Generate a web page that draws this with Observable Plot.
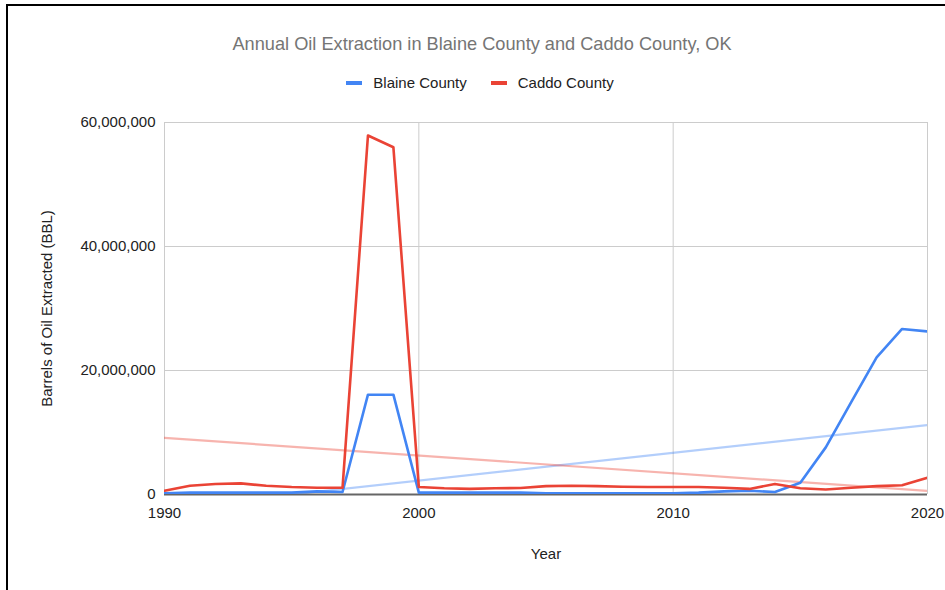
<!DOCTYPE html>
<html>
<head>
<meta charset="utf-8">
<script src="https://cdn.jsdelivr.net/npm/d3@7"></script>
<script src="https://cdn.jsdelivr.net/npm/@observablehq/plot@0.6"></script>
<style>
  html, body { margin: 0; padding: 0; background: #fff; }
  #chart {
    position: relative;
    width: 945px;
    height: 590px;
    overflow: hidden;
    font-family: "Liberation Sans", Arial, sans-serif;
  }
  #frame {
    position: absolute;
    left: 6px;
    top: 4px;
    right: -4px;
    bottom: -4px;
    border-left: 2px solid #000;
    border-top: 2px solid #000;
    pointer-events: none;
  }
  #title {
    position: absolute;
    left: 0;
    width: 964px;
    top: 34px;
    text-align: center;
    font-size: 18.2px;
    color: #757575;
    white-space: nowrap;
  }
  #legend {
    position: absolute;
    left: 0;
    width: 960px;
    top: 74px;
    text-align: center;
    font-size: 15px;
    color: #222;
    white-space: nowrap;
  }
  .item { display: inline-block; margin: 0 12px; }
  .sw {
    display: inline-block;
    width: 16px;
    height: 4px;
    margin-right: 11px;
    vertical-align: middle;
    position: relative;
    top: -1px;
  }
  #plot { position: absolute; left: 0; top: 0; }
</style>
</head>
<body>
<div id="chart">
  <div id="plot"></div>
  <div id="title"></div>
  <div id="legend"></div>
  <div id="frame"></div>
</div>
<script>
// Annual oil extraction, barrels per year
const years = [1990, 1991, 1992, 1993, 1994, 1995, 1996, 1997, 1998, 1999,
               2000, 2001, 2002, 2003, 2004, 2005, 2006, 2007, 2008, 2009,
               2010, 2011, 2012, 2013, 2014, 2015, 2016, 2017, 2018, 2019, 2020];

const blaine = [200000, 300000, 300000, 300000, 300000, 300000, 500000, 400000, 16100000, 16100000,
                300000, 300000, 300000, 300000, 300000, 200000, 200000, 200000, 200000, 200000,
                200000, 300000, 500000, 600000, 400000, 1900000, 7600000, 14900000, 22100000, 26700000, 26300000];

const caddo = [600000, 1400000, 1700000, 1800000, 1400000, 1200000, 1100000, 1100000, 57900000, 56000000,
               1200000, 1000000, 900000, 1000000, 1050000, 1350000, 1400000, 1350000, 1250000, 1200000,
               1200000, 1200000, 1100000, 900000, 1700000, 1000000, 800000, 1100000, 1350000, 1500000, 2700000];

const seriesNames = ["Blaine County", "Caddo County"];
const seriesColors = ["#4285F4", "#EA4335"];
const yTicks = [0, 20000000, 40000000, 60000000];
const xTicks = [1990, 2000, 2010, 2020];
const titleText = "Annual Oil Extraction in Blaine County and Caddo County, OK";

const rows = [
  ...years.map((year, i) => ({year, county: seriesNames[0], barrels: blaine[i]})),
  ...years.map((year, i) => ({year, county: seriesNames[1], barrels: caddo[i]}))
];

document.getElementById("title").textContent = titleText;
const legend = document.getElementById("legend");
seriesNames.forEach((name, i) => {
  const item = document.createElement("span");
  item.className = "item";
  const sw = document.createElement("span");
  sw.className = "sw";
  sw.style.background = seriesColors[i];
  item.appendChild(sw);
  item.appendChild(document.createTextNode(name));
  legend.appendChild(item);
});

const chart = Plot.plot({
  width: 945,
  height: 590,
  marginLeft: 164,
  marginRight: 18,
  marginTop: 122,
  marginBottom: 96,
  style: {fontFamily: '"Liberation Sans", Arial, sans-serif', fontSize: "15px", color: "#222", background: "transparent"},
  x: {domain: [1990, 2020], ticks: xTicks, tickFormat: "d"},
  y: {domain: [0, 60000000], ticks: yTicks, tickFormat: d3.format(",")},
  color: {domain: seriesNames, range: seriesColors},
  marks: [
    Plot.gridX(xTicks, {stroke: "#ccc", strokeOpacity: 1}),
    Plot.gridY(yTicks, {stroke: "#ccc", strokeOpacity: 1}),
    Plot.axisX({ticks: xTicks, tickFormat: "d", tickSize: 0, tickPadding: 13,
                label: "Year", labelAnchor: "center", labelArrow: "none", labelOffset: 64}),
    Plot.axisY({ticks: yTicks, tickFormat: d3.format(","), tickSize: 0, tickPadding: 9,
                label: "Barrels of Oil Extracted (BBL)", labelAnchor: "center", labelArrow: "none", labelOffset: 123}),
    Plot.linearRegressionY(rows, {x: "year", y: "barrels", stroke: "county", ci: 0,
                                  strokeWidth: 2.2, strokeOpacity: 0.4, clip: true}),
    Plot.ruleY([0], {stroke: "#666", strokeWidth: 2}),
    Plot.line(rows, {x: "year", y: "barrels", stroke: "county", strokeWidth: 2.6, clip: true})
  ]
});
document.getElementById("plot").appendChild(chart);
</script>
</body>
</html>
